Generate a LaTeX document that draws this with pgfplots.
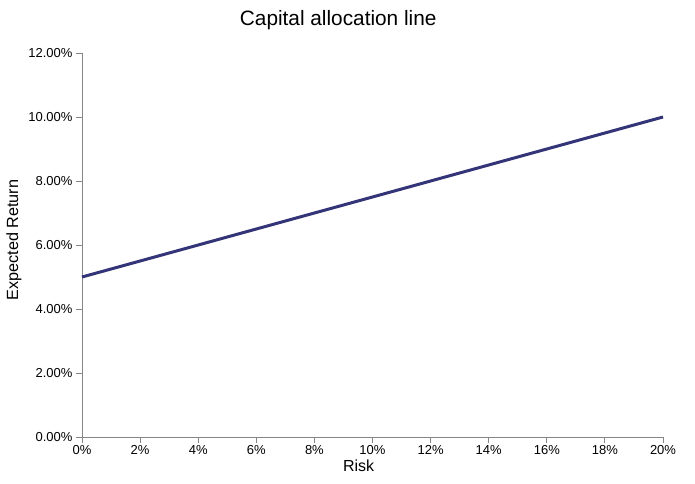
\documentclass[border=0pt]{standalone}
\usepackage{pgfplots}
\pgfplotsset{compat=1.18}
\usepackage{fontspec}
\setmainfont{Liberation Sans}
\definecolor{linecol}{RGB}{52,52,120}
\definecolor{axgray}{RGB}{134,134,134}
\begin{document}
\begin{tikzpicture}[x=1pt,y=1pt]
\useasboundingbox (0,0) rectangle (695,483);
\begin{axis}[
  at={(82pt,46pt)}, anchor=south west,
  scale only axis, width=581pt, height=384pt,
  xmin=0, xmax=20, ymin=0, ymax=12,
  axis x line*=bottom, axis y line*=left,
  axis line style={axgray, line width=0.9pt},
  xtick={0,2,...,20}, ytick={0,2,...,12},
  tick align=outside, tick pos=left,
  major tick length=6pt,
  tick style={axgray, line width=0.9pt},
  xticklabel={\pgfmathprintnumber[fixed,precision=0]{\tick}\%},
  yticklabel={\pgfmathprintnumber[fixed,fixed zerofill,precision=2]{\tick}\%},
  /pgf/number format/assume math mode=true,
  ticklabel style={font=\fontsize{13}{15}\selectfont, black},
  xticklabel style={yshift=1pt},
  title={Capital allocation line},
  title style={font=\fontsize{20.8}{24}\selectfont, at={(rel axis cs:0.441,1.0547)}, anchor=base},
  xlabel={Risk},
  xlabel style={font=\fontsize{16}{18}\selectfont, at={(rel axis cs:0.476,-0.0911)}, anchor=base},
  ylabel={Expected Return},
  ylabel style={font=\fontsize{16.2}{18}\selectfont, at={(rel axis cs:-0.110,0.513)}, anchor=base, rotate=0},
  clip=false,
]
\addplot[linecol, line width=3pt, no marks] coordinates {(0,5) (20,10)};
\end{axis}
\end{tikzpicture}
\end{document}
